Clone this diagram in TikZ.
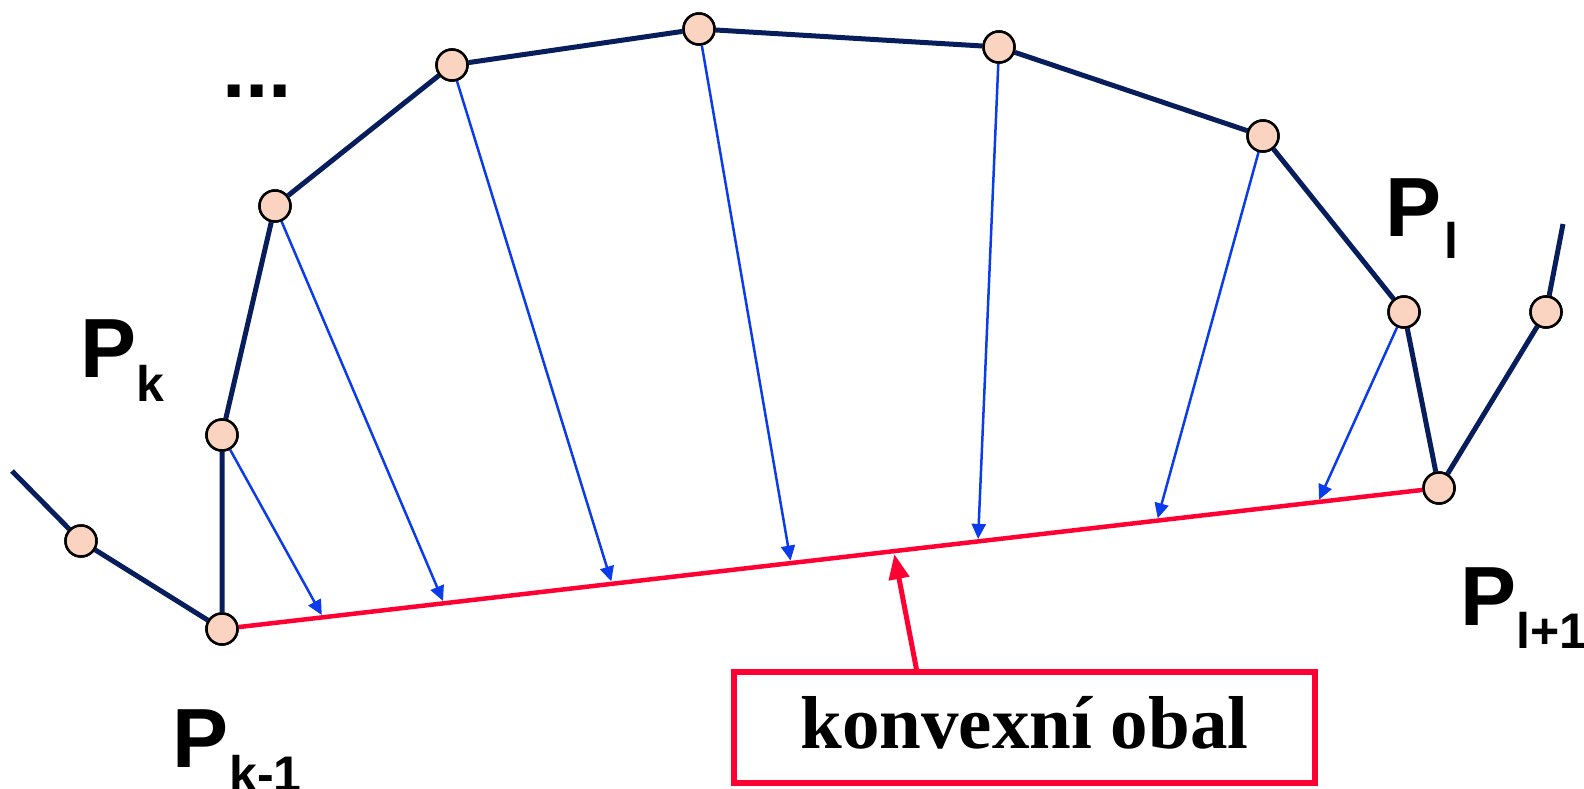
\documentclass[tikz,border=0pt]{standalone}
\usepackage{fontspec}
\setmainfont{Liberation Sans}
\newfontfamily\obalfont{Liberation Serif}
\usetikzlibrary{calc,arrows.meta}
\definecolor{navy}{RGB}{8,30,92}
\definecolor{arrowblue}{RGB}{10,60,235}
\definecolor{hullred}{RGB}{255,0,51}
\definecolor{peach}{RGB}{251,211,193}

\begin{document}
\begin{tikzpicture}[x=1pt,y=-1pt,
  vertex/.style={circle,draw=black,line width=2.5pt,fill=peach,minimum size=31pt,inner sep=0pt},
  edge/.style={navy,line width=5pt},
  proj/.style={arrowblue,line width=2.5pt,shorten >=2.5pt,-{Triangle[length=15pt,width=14pt]}},
  hull/.style={hullred,line width=4.5pt},
  lbl/.style={font=\fontsize{84}{84}\selectfont\bfseries,inner sep=0pt,anchor=base west},
  sublbl/.style={font=\fontsize{50}{50}\selectfont\bfseries,inner sep=0pt,anchor=base west}]
\useasboundingbox (0,0) rectangle (1584,789);

% polygon vertices
\node[vertex] (A)   at (81,541)   {};
\node[vertex] (Pkm) at (222,629)  {};
\node[vertex] (Pk)  at (222,435)  {};
\node[vertex] (B)   at (275,206)  {};
\node[vertex] (C)   at (452,65)   {};
\node[vertex] (D)   at (699,29)   {};
\node[vertex] (E)   at (999,47)   {};
\node[vertex] (F)   at (1263,136) {};
\node[vertex] (Pl)  at (1404,312) {};
\node[vertex] (Plp) at (1439,488) {};
\node[vertex] (G)   at (1546,312) {};
\coordinate (startfree) at (12,471);
\coordinate (endfree) at (1563,224);

% polygon edges
\draw[edge] (startfree) -- (A) -- (Pkm) -- (Pk) -- (B) -- (C) -- (D)
  -- (E) -- (F) -- (Pl) -- (Plp) -- (G) -- (endfree);

% convex hull segment
\draw[hull] (Pkm) -- (Plp);

% points on the hull segment
\coordinate (h1) at ($(Pkm)!0.083!(Plp)$);
\coordinate (h2) at ($(Pkm)!0.1824!(Plp)$);
\coordinate (h3) at ($(Pkm)!0.3205!(Plp)$);
\coordinate (h4) at ($(Pkm)!0.4675!(Plp)$);
\coordinate (h5) at ($(Pkm)!0.6212!(Plp)$);
\coordinate (h6) at ($(Pkm)!0.7683!(Plp)$);
\coordinate (h7) at ($(Pkm)!0.9006!(Plp)$);
\coordinate (hr) at ($(Pkm)!0.552!(Plp)$);

% projections onto the hull
\draw[proj] (Pk) -- (h1);
\draw[proj] (B)  -- (h2);
\draw[proj] (C)  -- (h3);
\draw[proj] (D)  -- (h4);
\draw[proj] (E)  -- (h5);
\draw[proj] (F)  -- (h6);
\draw[proj] (Pl) -- (h7);

% redraw vertices on top
\foreach \v in {A,Pkm,Pk,B,C,D,E,F,Pl,Plp,G}
  \path (\v) node[vertex] {};

% caption box
\node[draw=hullred,line width=6pt,minimum width=581pt,minimum height=111pt,
      inner sep=0pt,text height=41pt,text depth=0pt,
      font=\obalfont\fontsize{75}{75}\selectfont\bfseries] (obal) at (1024.5,727.5)
  {konvexní obal};
\draw[hullred,line width=5pt,shorten >=3pt,-{Triangle[length=25pt,width=20pt]}]
  ([xshift=-107.5pt,yshift=-3pt]obal.north) -- (hr);

% labels
\node[lbl] (dots) at (222,98) {...};
\node[lbl] (lPk) at (80,377) {P};
\node[sublbl] (lPks) at (136,401) {k};
\node[lbl] (lPkm) at (172,767) {P};
\node[sublbl] (lPkms) at (229,791) {k-1};
\node[lbl] (lPl) at (1385,236) {P};
\node[sublbl] (lPls) at (1444,258) {l};
\node[lbl] (lPlp) at (1460,625) {P};
\node[sublbl] (lPlps) at (1516,648) {l+1};
\end{tikzpicture}
\end{document}
